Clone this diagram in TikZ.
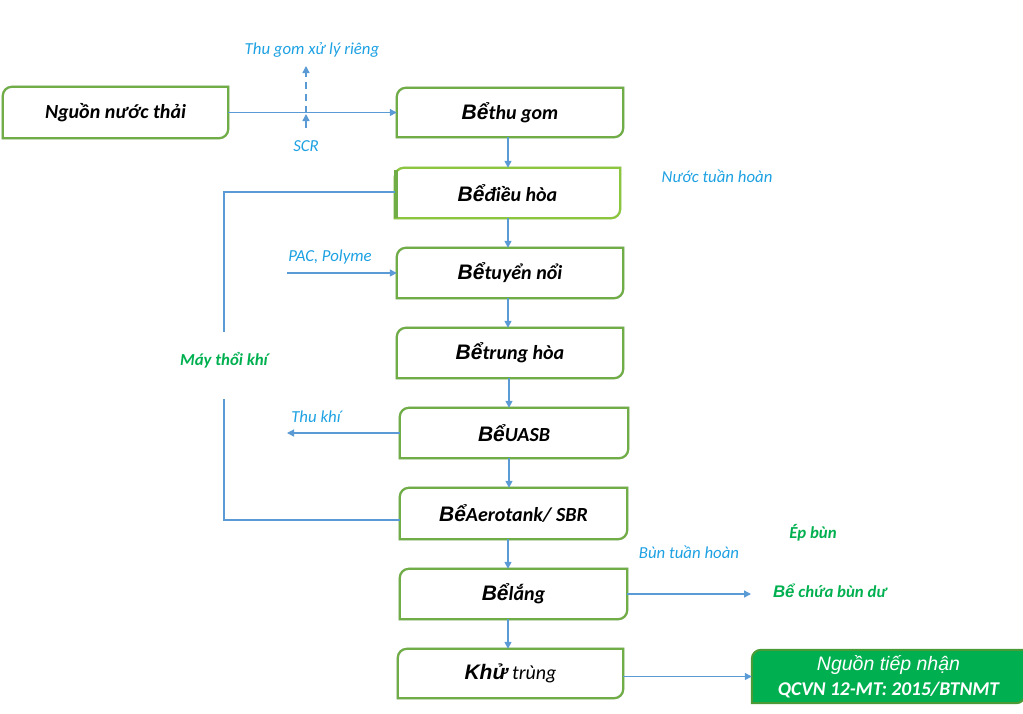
\documentclass[tikz,border=0pt]{standalone}
\usepackage{fontspec}
\setmainfont{Carlito}
\newfontfamily\arialf{Liberation Sans}
\usetikzlibrary{arrows.meta,backgrounds}
\definecolor{boxgreen}{HTML}{70AD47}
\definecolor{lightgreen}{HTML}{8CC63F}
\definecolor{arrowblue}{HTML}{5B9BD5}
\definecolor{lblue}{HTML}{1DA1E2}
\definecolor{tgreen}{HTML}{00B050}
\definecolor{darkgreen}{HTML}{4A9A35}
\newcommand\Be{{\arialf\fontsize{21}{24}\selectfont Bể}}
\newcommand\diagoutline[2]{%
  \path[#2] (#1.south west) -- ([yshift=-9pt]#1.north west)
    arc[start angle=180,end angle=90,radius=9pt] -- (#1.north east)
    -- ([yshift=9pt]#1.south east)
    arc[start angle=0,end angle=-90,radius=9pt] -- cycle;}
\tikzset{
  procbox/.style={minimum width=226pt, minimum height=50pt, inner sep=0pt,
    font=\fontsize{20}{24}\selectfont\bfseries\itshape},
  bluelbl/.style={text=lblue, inner sep=0pt, font=\fontsize{16.8}{19}\selectfont\itshape},
  greenlbl/.style={text=tgreen, inner sep=0pt, font=\fontsize{16.8}{19}\selectfont\bfseries\itshape},
  conn/.style={draw=arrowblue, line width=1.3pt, -{Triangle[length=7pt,width=7pt]}},
  plainline/.style={draw=arrowblue, line width=1.3pt},
  shadowline/.style={draw=black!12, line width=2.2pt, shift={(1.5pt,-1.5pt)}},
  boxline/.style={draw=boxgreen, line width=2.2pt},
}
\begin{document}
\begin{tikzpicture}[x=1pt,y=-1pt]
\useasboundingbox (0,0) rectangle (1023,713);
% process boxes
\node[procbox, minimum width=225pt, minimum height=51pt] (nnt) at (115.5,112.5) {Nguồn nước thải};
\node[procbox, minimum height=49pt] (tg) at (510,112.5) {\Be thu gom};
\node[procbox, minimum width=225pt] (dh) at (507.5,193) {\Be điều hòa};
\node[procbox] (tn) at (510,273) {\Be tuyển nổi};
\node[procbox] (th) at (510,353) {\Be trung hòa};
\node[procbox, minimum width=228pt] (uasb) at (514,433) {\Be UASB};
\node[procbox, minimum width=227pt, minimum height=51pt] (aero) at (513.5,513.5) {\Be Aerotank/ SBR};
\node[procbox, minimum width=227pt] (lang) at (513.5,594) {\Be lắng};
\node[procbox, minimum width=225pt, minimum height=49pt] (kt) at (510.5,673.5) {{\arialf\fontsize{21}{24}\selectfont Khử} {\mdseries trùng}};
\node[minimum width=273pt, minimum height=53pt, inner sep=0pt, text=white, align=center,
  font=\fontsize{19.5}{25}\selectfont\itshape] (ntn) at (888.5,676.5)
  {{\arialf\fontsize{19.5}{22}\selectfont Nguồn tiếp nhận}\\{\bfseries QCVN 12-MT: 2015/BTNMT}};
% outlines
\foreach \n in {nnt,tg,tn,th,uasb,aero,lang,kt}{
  \diagoutline{\n}{shadowline}
  \diagoutline{\n}{boxline}
}
\diagoutline{dh}{shadowline}
\diagoutline{dh}{draw=lightgreen, line width=2.2pt}
\draw[draw=boxgreen, line width=4pt] ([xshift=1pt]dh.south west) -- ([xshift=1pt,yshift=-2pt]dh.north west);
\begin{scope}[on background layer]
\diagoutline{ntn}{fill=tgreen, draw=darkgreen, line width=2pt}
\end{scope}
% labels
\node[bluelbl] (lblthu) at (312,50) {Thu gom xử lý riêng};
\node[bluelbl] (lblscr) at (306,146) {SCR};
\node[bluelbl] (lblnth) at (717,176) {Nước tuần hoàn};
\node[bluelbl] (lblpac) at (330,257) {PAC, Polyme};
\node[greenlbl] (lblmay) at (224,360) {Máy thổi khí};
\node[bluelbl] (lblkhi) at (316,417) {Thu khí};
\node[bluelbl] (lblbun) at (689,552) {Bùn tuần hoàn};
\node[greenlbl] (lblep) at (813,533) {Ép bùn};
\node[greenlbl] (lblchua) at (830,591) {{\arialf Bể} chứa bùn dư};
% coordinates
\coordinate (scrjoin) at (306,113);
\coordinate (scrtop) at (306,66);
\coordinate (scrbot) at (306,128);
\coordinate (airtop) at (224,192);
\coordinate (airmid1) at (224,332);
\coordinate (airmid2) at (224,399);
\coordinate (airbot) at (224,520);
\coordinate (pacstart) at (287,273);
\coordinate (khiend) at (287,433);
\coordinate (bunend) at (751,594);
% connectors
\draw[conn] (nnt.east) -- (tg.west);
\draw[conn, dashed, dash pattern=on 7pt off 5pt] (scrjoin) -- (scrtop);
\draw[conn] (scrbot) -- ([yshift=-1pt]scrjoin);
\draw[conn] (tg.south -| 508,0) -- (dh.north -| 508,0);
\draw[conn] (dh.south -| 508,0) -- (tn.north -| 508,0);
\draw[conn] (tn.south -| 508,0) -- (th.north -| 508,0);
\draw[conn] (th.south -| 509,0) -- (uasb.north -| 509,0);
\draw[conn] (uasb.south -| 509,0) -- (aero.north -| 509,0);
\draw[conn] (aero.south -| 508,0) -- (lang.north -| 508,0);
\draw[conn] (lang.south -| 508,0) -- (kt.north -| 508,0);
\draw[plainline] (dh.west |- airtop) -- (airtop) -- (airmid1);
\draw[plainline] (airmid2) -- (airbot) -- (aero.west |- airbot);
\draw[conn] (pacstart) -- (tn.west);
\draw[conn] (uasb.west) -- (khiend);
\draw[conn] (lang.east) -- (bunend);
\draw[conn] (kt.east |- ntn.west) -- (ntn.west);
\end{tikzpicture}
\end{document}
